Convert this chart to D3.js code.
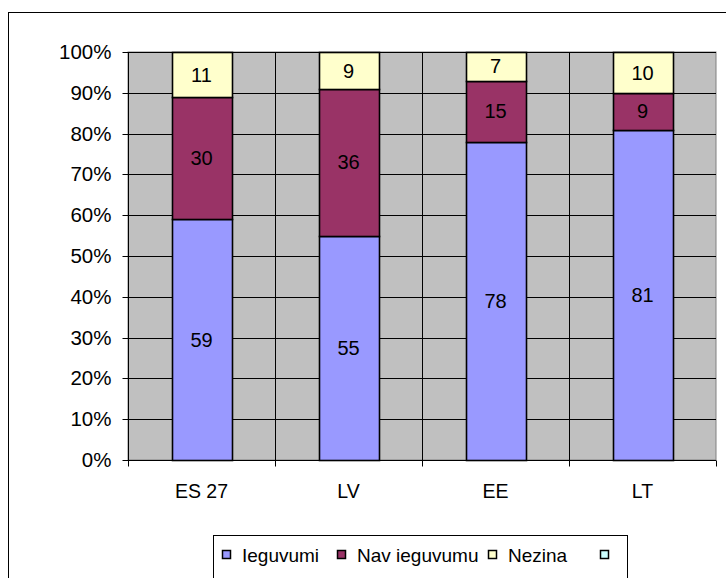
<!DOCTYPE html>
<html>
<head>
<meta charset="utf-8">
<script src="https://cdn.jsdelivr.net/npm/d3@7"></script>
<style>
  body { margin: 0; background: #fff; }
  text { font-family: "Liberation Sans", Arial, sans-serif; fill: #000; }
</style>
</head>
<body>
<svg width="726" height="578"></svg>
<script>
// data
let categories = ["ES 27", "LV", "EE", "LT"];
let seriesNames = ["Ieguvumi", "Nav ieguvumu", "Nezina", ""];
let ieguvumi = [59, 55, 78, 81];
let navIeguvumu = [30, 36, 15, 9];
let nezina = [11, 9, 7, 10];
let empty = [0, 0, 0, 0];
let yTicks = [0, 0.1, 0.2, 0.3, 0.4, 0.5, 0.6, 0.7, 0.8, 0.9, 1];
let colors = ["#9999ff", "#993366", "#ffffcc", "#ccffff"];

var svg = d3.select("svg"),
width = +svg.attr("width"),
height = +svg.attr("height");

let plotL = 128, plotR = 716, plotT = 52, plotB = 460;
let fs = "19.5px";

// chart outer frame
svg.append("rect")
.attr("x", 8.5).attr("y", 12.5)
.attr("width", 740).attr("height", 600)
.attr("fill", "#fff").attr("stroke", "#000");

let rows = categories.map((c, i) => ({
    cat: c,
    s0: ieguvumi[i],
    s1: navIeguvumu[i],
    s2: nezina[i],
    s3: empty[i]
}));

let stack = d3.stack().keys(["s0", "s1", "s2", "s3"])
.offset(d3.stackOffsetExpand);
let layers = stack(rows);

let x = d3.scaleBand().domain(categories).range([plotL, plotR]).padding(0);
let y = d3.scaleLinear().domain([0, 1]).range([plotB, plotT]);
let barW = Math.round(x.bandwidth() * 0.408);

// plot area
svg.append("rect")
.attr("x", plotL).attr("y", plotT)
.attr("width", plotR - plotL).attr("height", plotB - plotT)
.attr("fill", "#c0c0c0").attr("stroke", "#808080");

// gridlines
svg.append("g").selectAll("line")
.data(yTicks.slice(1))
.enter().append("line")
.attr("x1", plotL).attr("x2", plotR)
.attr("y1", d => Math.round(y(d)) + 0.5).attr("y2", d => Math.round(y(d)) + 0.5)
.attr("stroke", "#000");

svg.append("g").selectAll("line")
.data(categories.slice(1))
.enter().append("line")
.attr("x1", d => Math.round(x(d)) + 0.5).attr("x2", d => Math.round(x(d)) + 0.5)
.attr("y1", plotT).attr("y2", plotB)
.attr("stroke", "#000");

// bars
let g = svg.append("g");
layers.forEach((layer, li) => {
    g.selectAll(".bar" + li)
    .data(layer)
    .enter().append("rect")
    .attr("class", "bar" + li)
    .attr("x", d => Math.round(x(d.data.cat) + (x.bandwidth() - barW) / 2) + 0.5)
    .attr("y", d => Math.round(y(d[1])) + 0.5)
    .attr("width", barW)
    .attr("height", d => Math.round(y(d[0])) - Math.round(y(d[1])))
    .attr("fill", colors[li])
    .attr("stroke", "#000")
    .attr("stroke-width", 1.6)
    .style("display", d => d[1] - d[0] > 0 ? null : "none");

    g.selectAll(".lab" + li)
    .data(layer.filter(d => d[1] - d[0] > 0))
    .enter().append("text")
    .attr("x", d => x(d.data.cat) + x.bandwidth() / 2)
    .attr("y", d => (y(d[0]) + y(d[1])) / 2)
    .attr("dy", "0.36em")
    .attr("text-anchor", "middle")
    .style("font-size", "20px")
    .text(d => d.data["s" + li]);
});

// y axis
let yAxis = svg.append("g").attr("transform", `translate(${plotL + 0.5},0)`)
.call(d3.axisLeft(y).tickValues(yTicks).tickFormat(d3.format(".0%")).tickSize(6).tickPadding(11));
yAxis.select(".domain").attr("stroke", "#000").attr("d", `M0,${plotT}V${plotB}`);
yAxis.selectAll(".tick line").attr("stroke", "#000");
yAxis.selectAll(".tick text").style("font-size", "20.5px").attr("font-family", null);
yAxis.selectAll(".tick").attr("transform", d => `translate(0,${Math.round(y(d)) + 0.5})`);

// x axis
let xAxis = svg.append("g").attr("transform", `translate(0,${plotB + 0.5})`);
xAxis.append("line")
.attr("x1", plotL).attr("x2", plotR).attr("stroke", "#000");
xAxis.selectAll(".xt")
.data(categories.concat(["end"]))
.enter().append("line")
.attr("x1", (d, i) => Math.round(plotL + i * x.step()) + 0.5)
.attr("x2", (d, i) => Math.round(plotL + i * x.step()) + 0.5)
.attr("y1", 0).attr("y2", 6)
.attr("stroke", "#000");
xAxis.selectAll(".xl")
.data(categories)
.enter().append("text")
.attr("x", d => x(d) + x.bandwidth() / 2)
.attr("y", 37)
.attr("text-anchor", "middle")
.style("font-size", fs)
.text(d => d);

// legend
let legend = svg.append("g");
legend.append("rect")
.attr("x", 213.5).attr("y", 535.5)
.attr("width", 414).attr("height", 60)
.attr("fill", "#fff").attr("stroke", "#000");
let legX = [222, 337, 488, 600];
seriesNames.forEach((name, i) => {
    legend.append("rect")
    .attr("x", legX[i] + 0.5).attr("y", 550.5)
    .attr("width", 8).attr("height", 8)
    .attr("fill", colors[i]).attr("stroke", "#000").attr("stroke-width", 1.5);
    if (name) {
        legend.append("text")
        .attr("x", legX[i] + 20)
        .attr("y", 562)
        .style("font-size", "19px")
        .text(name);
    }
});
</script>
</body>
</html>
